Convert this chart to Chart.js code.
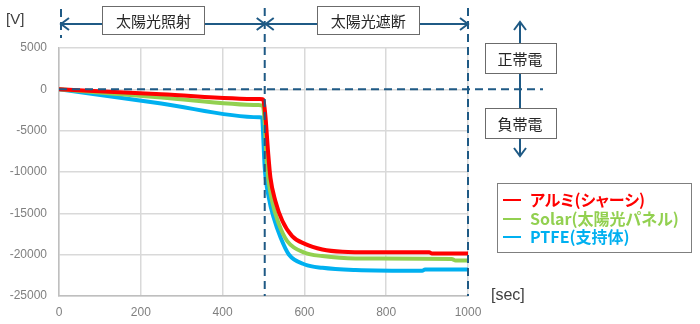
<!DOCTYPE html>
<html>
<head>
<meta charset="utf-8">
<script src="https://cdn.jsdelivr.net/npm/chart.js@4/dist/chart.umd.min.js"></script>
<style>
  html, body { margin: 0; padding: 0; background: #fff; }
  #wrap { position: relative; width: 700px; height: 324px; }
  #legend {
    position: absolute; left: 497px; top: 183px; width: 193px; height: 68px;
    border: 1.5px solid #7F7F7F; box-sizing: content-box;
    font: bold 16px "Noto Sans CJK JP", "Noto Sans", sans-serif;
    font-feature-settings: "palt";
  }
  #legend div { position: absolute; left: 32px; line-height: 18px; white-space: nowrap; }
  #legend span { position: absolute; left: -27px; top: 9px; width: 18px; height: 2px; }
</style>
</head>
<body>
<div id="wrap">
  <canvas id="chart" width="700" height="324"></canvas>
  <div id="legend"></div>
</div>
<script>
// series: time [sec] / potential [V]
var seriesNames = ['アルミ(シャーシ)', 'Solar(太陽光パネル)', 'PTFE(支持体)'];
var seriesColors = ['#FF0000', '#92D050', '#00B0F0'];

var redTime = [0, 250, 490, 498, 500, 502, 505, 511, 517, 529, 546, 570, 601, 644, 693, 766, 905, 912, 1000];
var redVolt = [0, -600, -1180, -1200, -1350, -2000, -3400, -7450, -10700, -13500, -15900, -17750, -18700, -19370, -19650, -19720, -19700, -19850, -19850];

var greenTime = [0, 250, 490, 498, 500, 502, 509, 521, 538, 558, 601, 644, 725, 960, 970, 1000];
var greenVolt = [0, -980, -1910, -1950, -2300, -3400, -9480, -13500, -16340, -18360, -19770, -20170, -20460, -20520, -20700, -20700];

var blueTime = [0, 250, 490, 497, 498, 503, 513, 525, 542, 562, 601, 644, 725, 888, 895, 1000];
var blueVolt = [0, -1720, -3380, -3430, -4240, -9480, -13100, -15540, -17960, -19980, -21190, -21590, -21850, -21950, -21800, -21800];

var xTicks = [0, 200, 400, 600, 800, 1000];
var yTicks = [5000, 0, -5000, -10000, -15000, -20000, -25000];

// annotation positions (data units)
var switchTime = 503;
var phaseLabels = ['太陽光照射', '太陽光遮断'];
var phaseLabelAt = [231, 756];
var chargeLabels = ['正帯電', '負帯電'];

var dashColor = '#1F5A85';
var jpFont = '"Noto Sans CJK JP", "Noto Sans", sans-serif';

function pts(t, v) {
    return t.map(function(x, i) { return {x: x, y: v[i]}; });
}

function arrowHead(ctx, x, y, dx, dy) {
    // open "<" style head, tip at x,y pointing along dx,dy
    var len = 8, half = 6;
    var px = -dy, py = dx;
    ctx.beginPath();
    ctx.moveTo(x - dx * len + px * half, y - dy * len + py * half);
    ctx.lineTo(x, y);
    ctx.lineTo(x - dx * len - px * half, y - dy * len - py * half);
    ctx.stroke();
}

function labelBox(ctx, cx, cy, w, h, text) {
    ctx.save();
    ctx.fillStyle = '#fff';
    ctx.strokeStyle = '#6b6b6b';
    ctx.lineWidth = 1;
    ctx.fillRect(cx - w / 2, cy - h / 2, w, h);
    ctx.strokeRect(Math.round(cx - w / 2) + 0.5, Math.round(cy - h / 2) + 0.5, w, h);
    ctx.fillStyle = '#262626';
    ctx.font = '15px ' + jpFont;
    ctx.textAlign = 'center';
    ctx.textBaseline = 'middle';
    ctx.fillText(text, cx, cy + 1);
    ctx.restore();
}

var annotations = {
    id: 'annotations',
    afterDatasetsDraw: function(chart) {
        var ctx = chart.ctx;
        var xs = chart.scales.x, ys = chart.scales.y, area = chart.chartArea;
        var x0 = xs.getPixelForValue(0);
        var xm = xs.getPixelForValue(switchTime);
        var x1 = xs.getPixelForValue(1000);
        var y0 = ys.getPixelForValue(0);
        var arrowY = 24;
        var sideX = area.right + 52;

        ctx.save();
        ctx.strokeStyle = dashColor;
        ctx.lineWidth = 2;
        ctx.setLineDash([8, 5]);
        ctx.beginPath();
        ctx.moveTo(x0 + 2, 9); ctx.lineTo(x0 + 2, 38);
        ctx.moveTo(xm, 8); ctx.lineTo(xm, area.bottom);
        ctx.moveTo(x1, 8); ctx.lineTo(x1, area.bottom);
        ctx.moveTo(area.left, y0); ctx.lineTo(sideX + 23, y0);
        ctx.stroke();

        ctx.setLineDash([]);
        ctx.beginPath();
        ctx.moveTo(x0 + 2, arrowY); ctx.lineTo(x1, arrowY);
        ctx.moveTo(sideX, 22); ctx.lineTo(sideX, 156);
        ctx.stroke();
        arrowHead(ctx, x0 + 2, arrowY, -1, 0);
        arrowHead(ctx, xm, arrowY, 1, 0);
        arrowHead(ctx, xm + 1, arrowY, -1, 0);
        arrowHead(ctx, x1, arrowY, 1, 0);
        arrowHead(ctx, sideX, 22, 0, -1);
        arrowHead(ctx, sideX, 156, 0, 1);
        ctx.restore();

        labelBox(ctx, xs.getPixelForValue(phaseLabelAt[0]), 20, 102, 28, phaseLabels[0]);
        labelBox(ctx, xs.getPixelForValue(phaseLabelAt[1]), 20, 102, 28, phaseLabels[1]);
        labelBox(ctx, sideX, 58, 71, 30, chargeLabels[0]);
        labelBox(ctx, sideX, 123, 71, 30, chargeLabels[1]);

        // axis units
        ctx.save();
        ctx.fillStyle = '#404040';
        ctx.font = '15px "Liberation Sans", sans-serif';
        ctx.textBaseline = 'middle';
        ctx.fillText('[V]', 6, 20);
        ctx.font = '16px "Liberation Sans", sans-serif';
        ctx.fillText('[sec]', 491, 296);
        ctx.restore();
    }
};

var datasets = [
    {label: seriesNames[0], data: pts(redTime, redVolt)},
    {label: seriesNames[1], data: pts(greenTime, greenVolt)},
    {label: seriesNames[2], data: pts(blueTime, blueVolt)}
].map(function(d, i) {
    d.borderColor = seriesColors[i];
    d.backgroundColor = seriesColors[i];
    d.borderWidth = 4;
    d.pointRadius = 0;
    d.cubicInterpolationMode = 'monotone';
    d.fill = false;
    return d;
});

// legend as html so the kana can use proportional widths
var legend = document.getElementById('legend');
seriesNames.forEach(function(name, i) {
    var row = document.createElement('div');
    row.style.top = (6 + i * 18.7) + 'px';
    row.style.color = seriesColors[i];
    row.textContent = name;
    var mark = document.createElement('span');
    mark.style.background = seriesColors[i];
    row.appendChild(mark);
    legend.appendChild(row);
});

var tickFont = {family: '"Liberation Sans", sans-serif', size: 12};

new Chart(document.getElementById('chart'), {
    type: 'line',
    data: {datasets: datasets},
    options: {
        responsive: false,
        animation: false,
        layout: {padding: {top: 48, right: 232, bottom: 0, left: 0}},
        plugins: {legend: {display: false}, tooltip: {enabled: false}},
        scales: {
            x: {
                type: 'linear',
                min: 0,
                max: 1000,
                afterFit: function(s) { s.height = 28; },
                afterBuildTicks: function(s) { s.ticks = xTicks.map(function(v) { return {value: v}; }); },
                grid: {color: '#D9D9D9', lineWidth: 1.5, drawTicks: false},
                border: {color: '#BFBFBF', width: 1.5},
                ticks: {color: '#7F7F7F', font: tickFont, padding: 9, maxRotation: 0,
                    callback: function(v) { return String(v); }}
            },
            y: {
                min: -25000,
                max: 5000,
                afterFit: function(s) { s.width = 59; },
                afterBuildTicks: function(s) { s.ticks = yTicks.map(function(v) { return {value: v}; }); },
                grid: {color: '#D9D9D9', lineWidth: 1.5, drawTicks: false},
                border: {color: '#BFBFBF', width: 1.5},
                ticks: {color: '#7F7F7F', font: tickFont, padding: 12,
                    callback: function(v) { return String(v); }}
            }
        }
    },
    plugins: [annotations]
});
</script>
</body>
</html>
